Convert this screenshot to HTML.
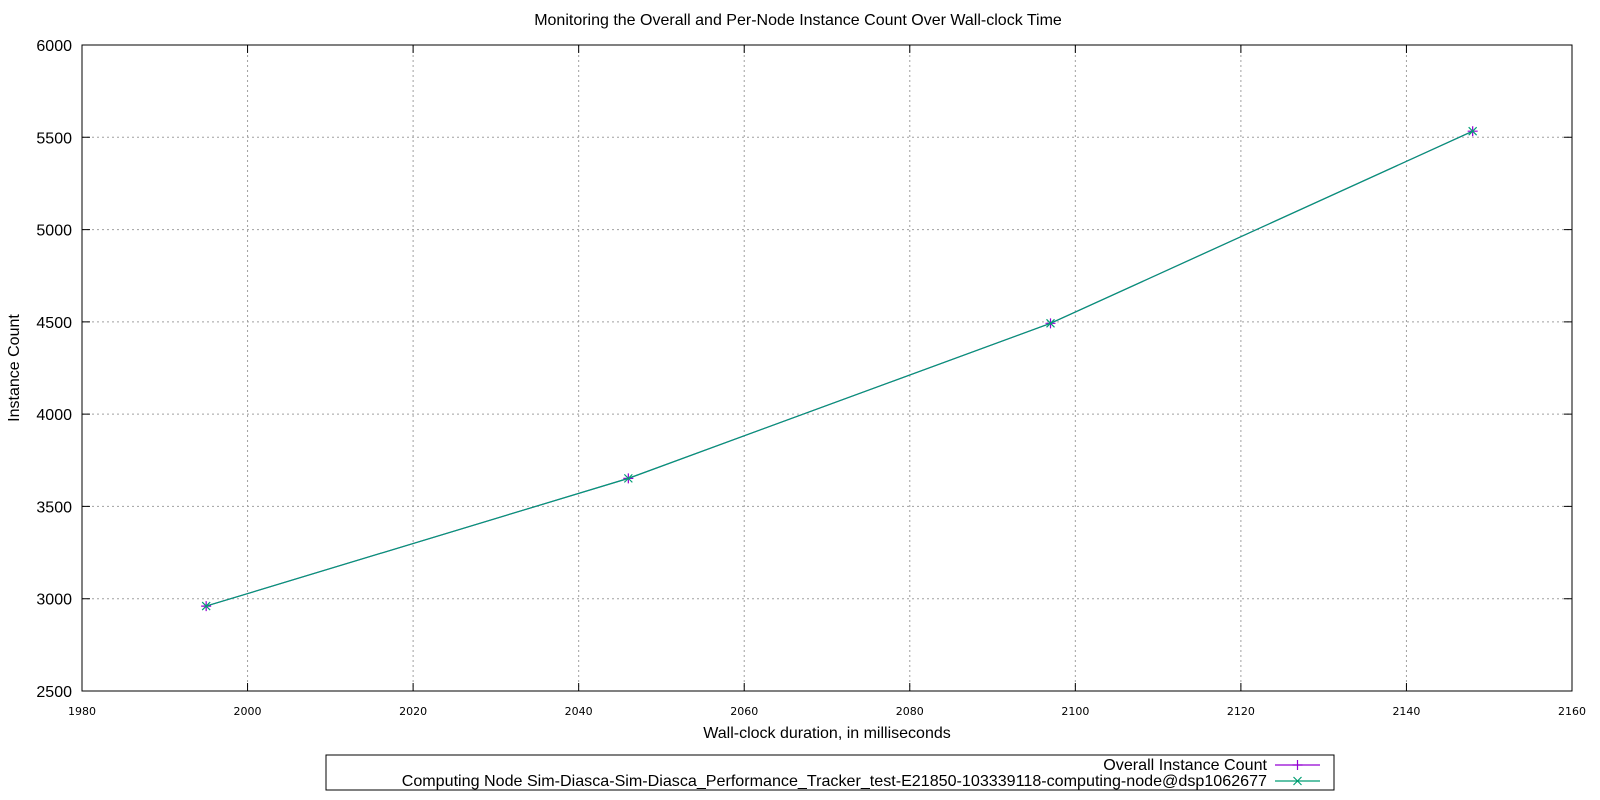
<!DOCTYPE html>
<html><head><meta charset="utf-8"><style>
html,body{margin:0;padding:0;background:#fff;}
svg{display:block;font-family:"Liberation Sans",sans-serif;}
</style></head><body>
<svg id="chart" width="1600" height="800" viewBox="0 0 1600 800" xmlns="http://www.w3.org/2000/svg">
<text x="798" y="25" font-size="16" text-anchor="middle">Monitoring the Overall and Per-Node Instance Count Over Wall-clock Time</text>
<g id="grid"></g>
<g id="axes"></g>
<g id="series"></g>
<text x="827" y="738" font-size="16" text-anchor="middle">Wall-clock duration, in milliseconds</text>
<text transform="translate(19,368) rotate(-90)" font-size="16" text-anchor="middle">Instance Count</text>
<g>
<rect x="326" y="755" width="1008" height="35" fill="none" stroke="#000" stroke-width="1"/>
<g>
<text x="1267" y="770" font-size="16.1" text-anchor="end">Overall Instance Count</text>
<line x1="1275" y1="765" x2="1320" y2="765" stroke="#9400d3" stroke-width="1.2"/>
<path d="M1297.5 760v10M1292.5 765h10" stroke="#9400d3" stroke-width="1.2"/>
</g>
<g>
<text x="1267" y="786" font-size="16.1" text-anchor="end">Computing Node Sim-Diasca-Sim-Diasca_Performance_Tracker_test-E21850-103339118-computing-node@dsp1062677</text>
<line x1="1275" y1="781" x2="1320" y2="781" stroke="#009e73" stroke-width="1.2"/>
<path d="M1293.5 777l8 8M1301.5 777l-8 8" stroke="#009e73" stroke-width="1.2"/>
</g>
</g>
</svg>
<script>
const xTicks = [1980, 2000, 2020, 2040, 2060, 2080, 2100, 2120, 2140, 2160];
const yTicks = [2500, 3000, 3500, 4000, 4500, 5000, 5500, 6000];
const times = [1995, 2046, 2097, 2148];
const overallCounts = [2960, 3652, 4492, 5533];
const nodeCounts = [2960, 3652, 4492, 5533];

const L=82,R=1572,T=45,B=691;
const xMin=1980,xMax=2160,yMin=2500,yMax=6000;
function sx(v){return L+(v-xMin)/(xMax-xMin)*(R-L);}
function sy(v){return B-(v-yMin)/(yMax-yMin)*(B-T);}
const NS="http://www.w3.org/2000/svg";
function mk(tag,attrs,parent){const e=document.createElementNS(NS,tag);for(const k in attrs)e.setAttribute(k,attrs[k]);parent.appendChild(e);return e;}
const grid=document.getElementById('grid'),axes=document.getElementById('axes'),series=document.getElementById('series');

xTicks.forEach(t=>{
  const x=sx(t);
  if(t>xMin&&t<xMax){const g=mk('line',{x1:x,y1:T,x2:x,y2:B,stroke:'#a0a0a0','stroke-dasharray':'2,3','stroke-width':1},grid);
  
  }
  const tk=mk('path',{d:`M${x} ${B}v-8M${x} ${T}v8`,stroke:'#000','stroke-width':1},axes);
  
  
  const lb=mk('text',{x:x,y:B+24,'font-size':11,'text-anchor':'middle','font-family':'DejaVu Sans, sans-serif'},axes);
  lb.textContent=t;
  
  
});
yTicks.forEach(t=>{
  const y=sy(t);
  if(t>yMin&&t<yMax){const g=mk('line',{x1:L,y1:y,x2:R,y2:y,stroke:'#a0a0a0','stroke-dasharray':'2,3','stroke-width':1},grid);
  
  }
  const tk=mk('path',{d:`M${L} ${y}h8M${R} ${y}h-8`,stroke:'#000','stroke-width':1},axes);
  
  
  const lb=mk('text',{x:L-10,y:y+6,'font-size':16,'text-anchor':'end'},axes);
  lb.textContent=t;
  
  
});
const frame=mk('rect',{x:L,y:T,width:R-L,height:B-T,fill:'none',stroke:'#000','stroke-width':1},axes);



function drawSeries(vals,color,name,marker){
  const pts=times.map((t,i)=>sx(t)+','+sy(vals[i])).join(' ');
  const pl=mk('polyline',{points:pts,fill:'none',stroke:color,'stroke-width':1.2},series);
  
  
  times.forEach((t,i)=>{
    const x=sx(t),y=sy(vals[i]);
    const d=marker==='plus'?`M${x} ${y-5}v10M${x-5} ${y}h10`:`M${x-4} ${y-4}l8 8M${x+4} ${y-4}l-8 8`;
    const m=mk('path',{d:d,stroke:color,'stroke-width':1.2},series);
    
    
  });
}
drawSeries(overallCounts,'#9400d3','overall-count','plus');
drawSeries(nodeCounts,'#009e73','node-count','cross');
</script>
</body></html>
